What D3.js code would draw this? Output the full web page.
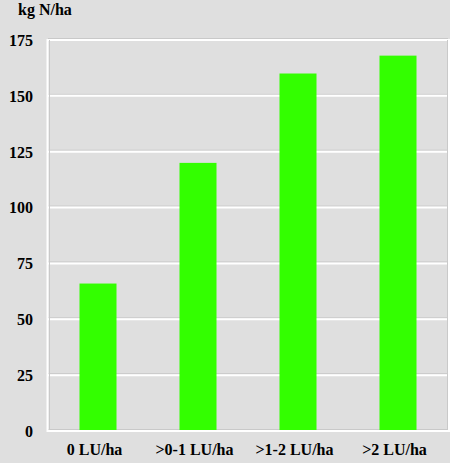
<!DOCTYPE html>
<html>
<head>
<meta charset="utf-8">
<script src="https://cdn.jsdelivr.net/npm/d3@7"></script>
<style>
  html, body { margin: 0; padding: 0; background: #dfdfdf; }
  svg { display: block; }
</style>
</head>
<body>
<script>
const categories = ["0 LU/ha", ">0-1 LU/ha", ">1-2 LU/ha", ">2 LU/ha"];
const values = [66, 120, 160, 168];
const yTicks = [0, 25, 50, 75, 100, 125, 150, 175];
const yTitle = "kg N/ha";

const W = 450, H = 463;
const mLeft = 48, mRight = 448, mTop = 40, mBottom = 431;

const svg = d3.select("body").append("svg").attr("width", W).attr("height", H)
  .attr("font-family", "Liberation Serif").attr("font-weight", "bold").attr("font-size", 16);
svg.append("rect").attr("width", W).attr("height", H).attr("fill", "#dfdfdf");

const x = d3.scaleBand().domain(categories).range([mLeft, mRight]).paddingInner(0.63).paddingOuter(0.315);
const y = d3.scaleLinear().domain([0, 175]).range([mBottom, mTop]);

// gridlines (etched look: gray line above white)
const grid = svg.append("g");
yTicks.forEach(t => {
  const yy = y(t);
  grid.append("line").attr("x1", mLeft).attr("x2", mRight).attr("y1", yy - 1.5).attr("y2", yy - 1.5)
    .attr("stroke", "#c9c9c9").attr("stroke-width", 1);
  grid.append("line").attr("x1", mLeft - 1).attr("x2", mRight + 1).attr("y1", yy).attr("y2", yy)
    .attr("stroke", "#ffffff").attr("stroke-width", 2);
});
// left axis line
svg.append("line").attr("x1", mLeft + 1.5).attr("x2", mLeft + 1.5).attr("y1", y(175)).attr("y2", y(0) - 1)
  .attr("stroke", "#c9c9c9").attr("stroke-width", 1);
svg.append("line").attr("x1", mLeft - 0.5).attr("x2", mLeft - 0.5).attr("y1", y(175) - 1).attr("y2", y(0) + 1)
  .attr("stroke", "#ffffff").attr("stroke-width", 2);
// right edge
svg.append("line").attr("x1", mRight - 0.5).attr("x2", mRight - 0.5).attr("y1", y(175)).attr("y2", y(0) - 1)
  .attr("stroke", "#c9c9c9").attr("stroke-width", 1);
svg.append("line").attr("x1", mRight + 1).attr("x2", mRight + 1).attr("y1", y(175) - 1).attr("y2", y(0) + 1)
  .attr("stroke", "#ffffff").attr("stroke-width", 2);

// bars
svg.append("g").selectAll("rect").data(values).join("rect")
  .attr("x", (d, i) => x(categories[i]))
  .attr("y", d => y(d))
  .attr("width", x.bandwidth())
  .attr("height", d => y(0) - 1 - y(d))
  .attr("fill", "#33ff00");

// y tick labels
svg.append("g").selectAll("text").data(yTicks).join("text")
  .attr("x", 33).attr("y", d => y(d)).attr("dy", "0.37em")
  .attr("text-anchor", "end").attr("fill", "#000").text(d => d);

// x labels
svg.append("g").selectAll("text").data(categories).join("text")
  .attr("x", d => x(d) + x.bandwidth() / 2 - 3.5).attr("y", 455)
  .attr("text-anchor", "middle").attr("fill", "#000").text(d => d);

// y title
svg.append("text").attr("x", 18).attr("y", 15).attr("fill", "#000").text(yTitle);
</script>
</body>
</html>
